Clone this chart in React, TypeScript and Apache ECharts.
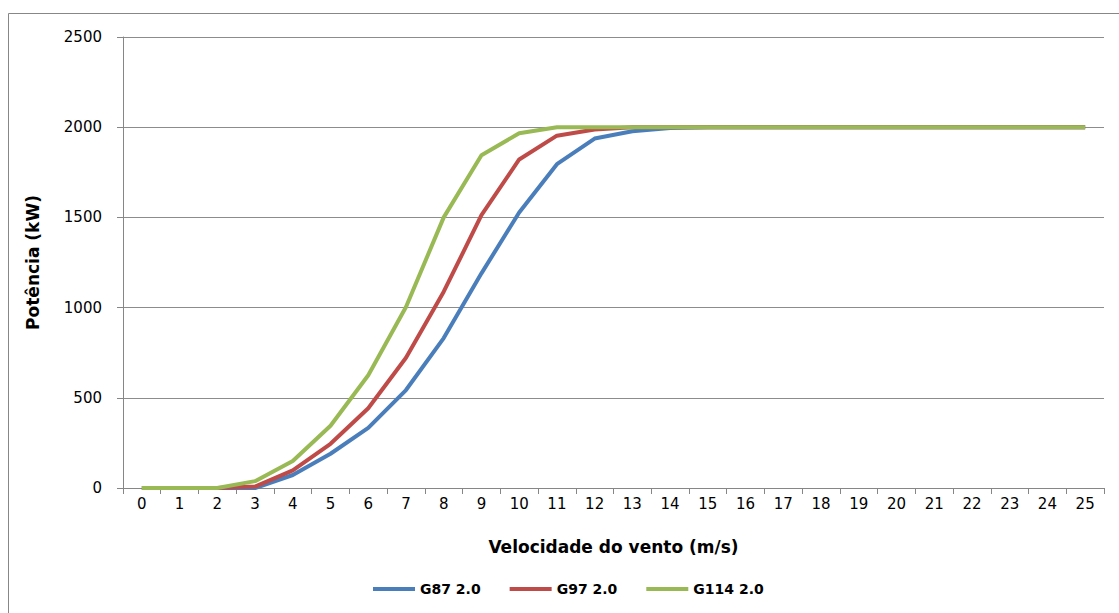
import React, { useEffect, useRef } from "react";
import * as echarts from "echarts";

const categories = ["0","1","2","3","4","5","6","7","8","9","10","11","12","13","14","15","16","17","18","19","20","21","22","23","24","25"];
const g87 = [0,0,0,0,72,190,333,543,831,1190,1527,1795,1937,1978,1995,2000,2000,2000,2000,2000,2000,2000,2000,2000,2000,2000];
const g97 = [0,0,0,8,98,245,442,722,1088,1512,1821,1953,1987,2000,2000,2000,2000,2000,2000,2000,2000,2000,2000,2000,2000,2000];
const g114 = [0,0,0,38,150,345,625,1003,1500,1845,1966,2000,2000,2000,2000,2000,2000,2000,2000,2000,2000,2000,2000,2000,2000,2000];
const seriesNames = ["G87 2.0", "G97 2.0", "G114 2.0"];
const colors = ["#4a7ebb", "#be4b48", "#98b954"];

export default function App() {
  const ref = useRef<HTMLDivElement>(null);
  useEffect(() => {
    if (!ref.current) return;
    const chart = echarts.init(ref.current, null, { renderer: "svg" });
    const font = "DejaVu Sans";
    const axisGray = "#868686";
    chart.setOption({
      animation: false,
      backgroundColor: "#ffffff",
      color: colors,
      textStyle: { fontFamily: font },
      graphic: [
        {
          type: "rect",
          shape: { x: 8.5, y: 13.5, width: 1300, height: 900 },
          style: { fill: "none", stroke: "#878787", lineWidth: 1 },
          silent: true,
        },
      ],
      grid: { left: 123, right: 15, top: 37, bottom: 125, containLabel: false },
      legend: {
        left: 368,
        top: 577,
        icon: "rect",
        itemWidth: 42,
        itemHeight: 4,
        itemGap: 29,
        textStyle: { fontFamily: font, fontSize: 14, fontWeight: "bold", color: "#000" },
        data: seriesNames,
      },
      xAxis: {
        type: "category",
        data: categories,
        boundaryGap: true,
        name: "Velocidade do vento (m/s)",
        nameLocation: "middle",
        nameGap: 50,
        nameTextStyle: { fontFamily: font, fontSize: 17, fontWeight: "bold", color: "#000" },
        axisLine: { lineStyle: { color: axisGray, width: 1 } },
        axisTick: { show: true, alignWithLabel: false, length: 6, lineStyle: { color: axisGray } },
        axisLabel: { color: "#000", fontSize: 15, margin: 8, interval: 0 },
        splitLine: { show: false },
      },
      yAxis: {
        type: "value",
        min: 0,
        max: 2500,
        interval: 500,
        name: "Potência (kW)",
        nameLocation: "middle",
        nameGap: 82,
        nameRotate: 90,
        nameTextStyle: { fontFamily: font, fontSize: 17, fontWeight: "bold", color: "#000" },
        axisLine: { show: true, lineStyle: { color: axisGray, width: 1 } },
        axisTick: { show: true, length: 6, lineStyle: { color: axisGray } },
        axisLabel: { color: "#000", fontSize: 15, margin: 21, formatter: (v: number) => String(v) },
        splitLine: { show: true, lineStyle: { color: "#8c8c8c", width: 1 } },
      },
      series: [g87, g97, g114].map((d, i) => ({
        name: seriesNames[i],
        type: "line",
        data: d,
        symbol: "none",
        lineStyle: { width: 4, color: colors[i] },
        itemStyle: { color: colors[i] },
      })),
    });
    return () => chart.dispose();
  }, []);
  return (
    <div
      ref={ref}
      style={{ position: "absolute", left: 0, top: 0, width: 1119, height: 613 }}
    />
  );
}
